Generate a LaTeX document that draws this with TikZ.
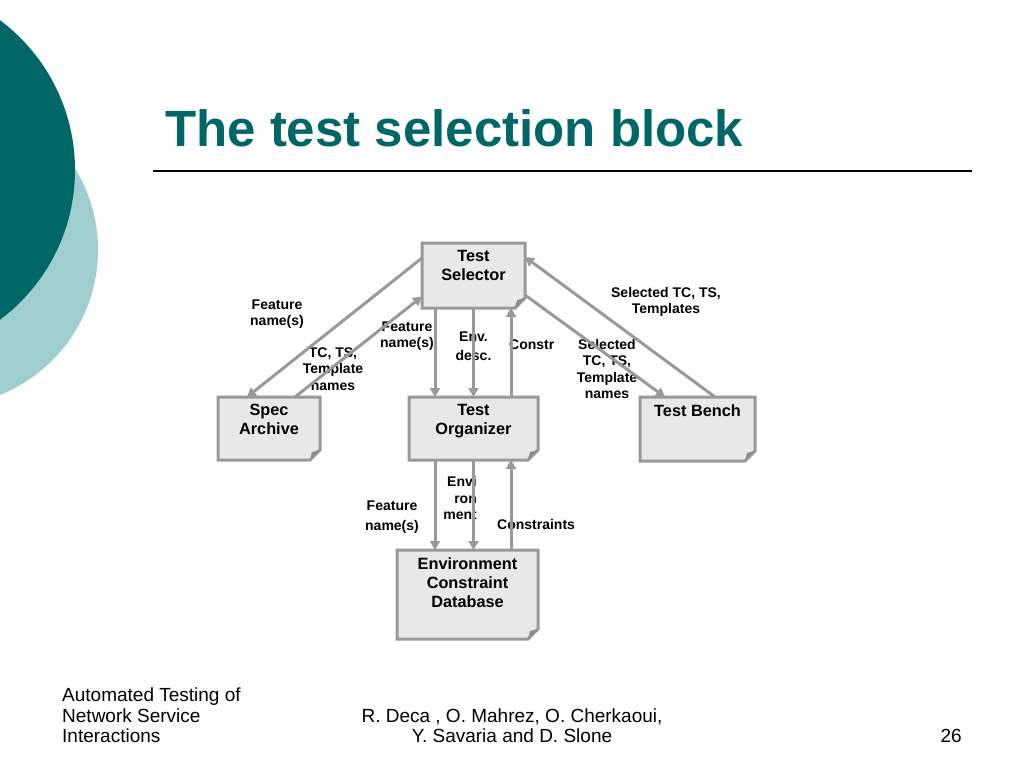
\documentclass[tikz,border=0pt]{standalone}
\usepackage{fontspec}
\setmainfont{Liberation Sans}
\usetikzlibrary{arrows.meta, positioning, calc}

\definecolor{tealdark}{RGB}{0,102,102}
\definecolor{teallight}{RGB}{158,206,206}
\definecolor{linegray}{RGB}{153,153,153}
\definecolor{boxfill}{RGB}{232,232,232}
\definecolor{foldgray}{RGB}{140,140,140}

\tikzset{
  box/.style={inner sep=0pt, outer sep=0pt},
  boxtext/.style={font=\fontsize{16.3}{19}\selectfont\bfseries, align=center, inner sep=0pt},
  lbl/.style={font=\fontsize{14}{16.5}\selectfont\bfseries, align=center, inner sep=0pt},
  flow/.style={draw=linegray, line width=3pt, -{Triangle[length=9pt,width=10pt]}},
  foot/.style={font=\fontsize{19}{20.5}\selectfont, inner sep=0pt},
}

\begin{document}
\begin{tikzpicture}[x=1pt, y=-1pt]
    \useasboundingbox (0,0) rectangle (1024,768);

    % slide decoration
    \fill[teallight] (-58,250) circle (156pt);
    \fill[tealdark] (-112,170) circle (187pt);

    \node[anchor=base west, inner sep=0pt, text=tealdark, font=\fontsize{51}{60}\selectfont\bfseries] (title) at (165,146) {The test selection block};
    \draw[line width=1.5pt] (153,171) -- (972,171);

    % blocks
    \node[box, minimum width=103, minimum height=65] (sel) at (473.5,275.5) {};
    \node[box, minimum width=102, minimum height=63] (spec) at (269,428.5) {};
    \node[box, minimum width=129, minimum height=63] (org) at (473.5,428.5) {};
    \node[box, minimum width=115, minimum height=64] (bench) at (697.5,429) {};
    \node[box, minimum width=141, minimum height=89] (db) at (467.5,594.5) {};

    \foreach \n in {sel, spec, org, bench, db} {
        \filldraw[fill=boxfill, draw=linegray, line width=3pt, line join=miter]
            (\n.north west) -- (\n.north east) -- ([yshift=10pt]\n.south east)
            -- ([xshift=-10pt]\n.south east) -- (\n.south west) -- cycle;
        \fill[foldgray] ([yshift=10pt]\n.south east) -- ([xshift=-10pt]\n.south east)
            -- ([xshift=-8pt, yshift=8pt]\n.south east) -- cycle;
    }

    \node[boxtext, below=7pt of sel.north] (seltext) {Test\\Selector};
    \node[boxtext, below=7pt of spec.north] (spectext) {Spec\\Archive};
    \node[boxtext, below=7pt of org.north] (orgtext) {Test\\Organizer};
    \node[boxtext, below=7pt of bench.north] (benchtext) {Test Bench};
    \node[boxtext, below=7pt of db.north] (dbtext) {Environment\\Constraint\\Database};

    % labels
    \node[lbl] (l1) at (277,314) {Feature\\name(s)};
    \node[lbl] (l2) at (333,369) {TC, TS,\\Template\\names};
    \node[lbl] (l3) at (407,336) {Feature\\name(s)};
    \node[lbl, font=\fontsize{14}{19}\selectfont\bfseries] (l4) at (473.5,346) {Env.\\desc.};
    \node[lbl, anchor=west] (l5) at (509,345) {Constr};
    \node[lbl] (l6) at (607,369) {Selected\\TC, TS,\\Template\\names};
    \node[lbl] (l7) at (666,302) {Selected TC, TS,\\Templates};
    \node[lbl, font=\fontsize{14}{20}\selectfont\bfseries] (l8) at (392,517) {Feature\\name(s)};
    \node[lbl, align=right, anchor=east] (l9) at (477,498) {Envi\\ron\\ment};
    \node[lbl, anchor=west] (l10) at (497,524) {Constraints};

    % flows
    \coordinate (s1) at ($(sel.south)+(-38.5,0)$);
    \coordinate (s2) at ($(org.north)+(37.5,0)$);
    \coordinate (s3) at ($(org.south)+(-38.5,0)$);
    \coordinate (s4) at ($(org.south)+(37.5,0)$);
    \draw[flow] ($(sel.west)+(0,-17.5)$) -- ($(spec.north)+(-22,0)$);
    \draw[flow] ($(spec.north)+(26,0)$) -- ($(sel.west)+(0,21)$);
    \draw[flow] (s1) -- (s1 |- org.north);
    \draw[flow] (sel.south) -- (org.north);
    \draw[flow] (s2) -- (s2 |- sel.south);
    \draw[flow] ($(sel.east)+(0,19.5)$) -- ($(bench.north)+(-32.5,0)$);
    \draw[flow] ($(bench.north)+(17.5,0)$) -- ($(sel.east)+(0,-18.5)$);
    \draw[flow] (s3) -- (s3 |- db.north);
    \draw[flow] (org.south) -- (org.south |- db.north);
    \draw[flow] (s4 |- db.north) -- (s4);

    % footer
    \node[foot, anchor=north west, align=left] (ftl) at (62,688) {Automated Testing of\\Network Service\\Interactions};
    \node[foot, anchor=north, align=center] (ftc) at (512,708.5) {R. Deca , O. Mahrez, O. Cherkaoui,\\Y. Savaria and D. Slone};
    \node[foot, anchor=base east] (ftr) at (962,742) {26};
\end{tikzpicture}
\end{document}
